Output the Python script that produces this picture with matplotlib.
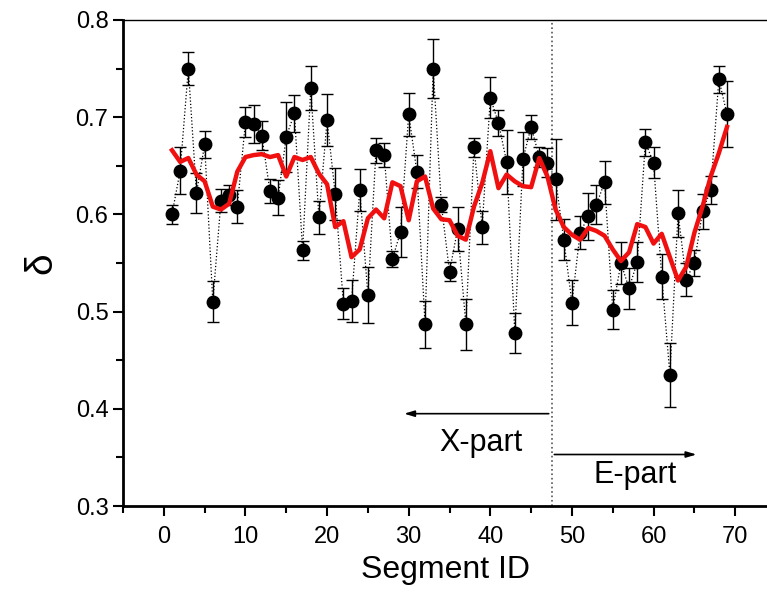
import matplotlib.pyplot as plt
from matplotlib.ticker import MultipleLocator

plt.rcParams["font.family"] = ["Liberation Sans", "DejaVu Sans"]

segment_id = list(range(1, 70))
delta = [
    0.600, 0.645, 0.750, 0.622, 0.672, 0.510, 0.614, 0.620, 0.608, 0.695,
    0.693, 0.681, 0.624, 0.617, 0.680, 0.704, 0.563, 0.730, 0.597, 0.697,
    0.621, 0.508, 0.511, 0.625, 0.517, 0.666, 0.661, 0.554, 0.582, 0.703,
    0.644, 0.487, 0.750, 0.610, 0.541, 0.585, 0.487, 0.669, 0.587, 0.720,
    0.694, 0.654, 0.478, 0.657, 0.690, 0.659, 0.653, 0.636, 0.574, 0.509,
    0.581, 0.598, 0.610, 0.633, 0.502, 0.550, 0.524, 0.551, 0.674, 0.653,
    0.536, 0.435, 0.601, 0.533, 0.550, 0.603, 0.625, 0.739, 0.703,
]
delta_err = [
    0.010, 0.024, 0.017, 0.021, 0.014, 0.021, 0.012, 0.010, 0.017, 0.015,
    0.020, 0.015, 0.012, 0.018, 0.036, 0.019, 0.010, 0.023, 0.017, 0.027,
    0.027, 0.016, 0.022, 0.022, 0.029, 0.013, 0.012, 0.008, 0.026, 0.022,
    0.017, 0.024, 0.030, 0.008, 0.010, 0.023, 0.026, 0.010, 0.017, 0.021,
    0.013, 0.033, 0.021, 0.028, 0.012, 0.010, 0.015, 0.042, 0.021, 0.023,
    0.017, 0.024, 0.020, 0.022, 0.020, 0.022, 0.021, 0.021, 0.014, 0.016,
    0.023, 0.033, 0.024, 0.017, 0.013, 0.018, 0.014, 0.014, 0.034,
]
smoothed = [
    0.666, 0.654, 0.658, 0.641, 0.634, 0.608, 0.605, 0.611, 0.644, 0.659,
    0.661, 0.662, 0.659, 0.661, 0.639, 0.659, 0.656, 0.659, 0.642, 0.631,
    0.587, 0.593, 0.556, 0.564, 0.596, 0.605, 0.596, 0.633, 0.629, 0.594,
    0.634, 0.639, 0.606, 0.595, 0.594, 0.578, 0.574, 0.608, 0.632, 0.665,
    0.627, 0.641, 0.634, 0.629, 0.628, 0.658, 0.639, 0.605, 0.587, 0.579,
    0.574, 0.586, 0.583, 0.578, 0.564, 0.552, 0.561, 0.590, 0.587, 0.570,
    0.580, 0.556, 0.532, 0.546, 0.581, 0.608, 0.639, 0.663, 0.690,
]
boundary = 47.5

fig = plt.figure(figsize=(7.67, 5.98), dpi=100)
ax = fig.add_axes([0.1604, 0.1538, 0.8396, 0.8128])

ax.errorbar(segment_id, delta, yerr=delta_err, fmt="o", color="black",
            markersize=9, elinewidth=1.0, capsize=4, capthick=1.0, zorder=3)
ax.plot(segment_id, delta, linestyle=":", color="black", linewidth=0.9, zorder=2)
ax.plot(segment_id, smoothed, color="#f01010", linewidth=3.2, zorder=4)

ax.axvline(boundary, color="#555555", linestyle=":", linewidth=1.2, zorder=1)
arrow = dict(arrowstyle="-|>,head_length=0.6,head_width=0.18", color="black", lw=1.2)
ax.annotate("", xy=(29.1, 0.395), xytext=(boundary, 0.395), arrowprops=arrow)
ax.annotate("", xy=(65.6, 0.353), xytext=(boundary, 0.353), arrowprops=arrow)
ax.text(38.8, 0.365, "X-part", fontsize=22, ha="center", va="center")
ax.text(57.8, 0.332, "E-part", fontsize=22, ha="center", va="center")

ax.set_xlim(-5, 73.9)
ax.set_ylim(0.3, 0.8)
ax.xaxis.set_major_locator(MultipleLocator(10))
ax.xaxis.set_minor_locator(MultipleLocator(5))
ax.yaxis.set_major_locator(MultipleLocator(0.1))
ax.yaxis.set_minor_locator(MultipleLocator(0.05))
ax.tick_params(which="major", direction="out", length=7.5, width=1.5, labelsize=17, pad=3)
ax.tick_params(which="minor", direction="out", length=5, width=1.5)
ax.tick_params(axis="x", which="major", pad=7)

ax.spines["right"].set_visible(False)
ax.spines["left"].set_linewidth(2)
ax.spines["bottom"].set_linewidth(2)
ax.spines["top"].set_linewidth(1.0)

ax.set_xlabel("Segment ID", fontsize=23, labelpad=5)
ax.set_ylabel("δ", fontsize=28, labelpad=12)

fig.savefig("out.png", dpi=100)
